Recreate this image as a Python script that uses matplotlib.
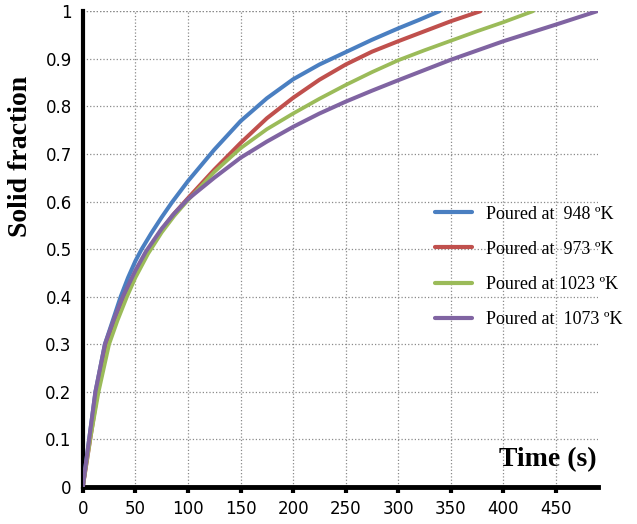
import matplotlib
matplotlib.use("Agg")
from matplotlib import pyplot as plt

# values (time in s, solid fraction)
t_948 = [0, 6, 12, 21, 30, 36, 43, 50, 56, 65, 75, 85, 100, 125, 150, 175, 200,
         225, 250, 275, 300, 320, 339]
fs_948 = [0, 0.10, 0.20, 0.30, 0.36, 0.40, 0.44, 0.475, 0.50, 0.533, 0.567, 0.599, 0.643,
          0.709, 0.769, 0.817, 0.857, 0.888, 0.914, 0.94, 0.964, 0.982, 1.0]

t_973 = [0, 7, 14, 24, 32, 40, 50, 61, 75, 85, 100, 125, 150, 175, 200, 225,
         250, 275, 300, 325, 350, 378]
fs_973 = [0, 0.10, 0.20, 0.30, 0.355, 0.40, 0.447, 0.492, 0.54, 0.57, 0.607, 0.667,
          0.723, 0.775, 0.818, 0.856, 0.888, 0.915, 0.937, 0.958, 0.979, 1.0]

t_1023 = [0, 7, 15, 25, 33, 42, 50, 62, 75, 87, 100, 125, 150, 175, 200, 225, 250,
          275, 300, 325, 350, 375, 400, 428]
fs_1023 = [0, 0.10, 0.20, 0.30, 0.35, 0.40, 0.44, 0.49, 0.535, 0.57, 0.603, 0.662, 0.712,
           0.752, 0.785, 0.816, 0.845, 0.872, 0.897, 0.918, 0.938, 0.958, 0.977, 1.0]

t_1073 = [0, 6, 12, 21, 30, 38, 50, 60, 75, 87, 100, 125, 150, 175, 200, 225, 250,
          275, 300, 350, 400, 450, 489]
fs_1073 = [0, 0.10, 0.20, 0.30, 0.355, 0.40, 0.455, 0.495, 0.543, 0.575, 0.605, 0.65,
           0.692, 0.726, 0.757, 0.785, 0.81, 0.833, 0.855, 0.898, 0.937, 0.972, 1.0]

labels = ["Poured at  948 \u00baK", "Poured at  973 \u00baK",
          "Poured at 1023 \u00baK", "Poured at  1073 \u00baK"]
colors = ["#4a7fc1", "#c0504d", "#9bbb59", "#8064a2"]

x_ticks = [0, 50, 100, 150, 200, 250, 300, 350, 400, 450]
y_ticks = [0, 0.1, 0.2, 0.3, 0.4, 0.5, 0.6, 0.7, 0.8, 0.9, 1]
y_tick_labels = ["0", "0.1", "0.2", "0.3", "0.4", "0.5", "0.6", "0.7", "0.8", "0.9", "1"]

fig = plt.figure(figsize=(6.37, 5.24), dpi=100)
ax = fig.add_axes([0.130, 0.0706, 0.809, 0.908])

series = [(t_948, fs_948), (t_973, fs_973), (t_1023, fs_1023), (t_1073, fs_1073)]
widths = [2.9, 2.9, 2.7, 2.9]
for (t, fs), c, lab, w in zip(series, colors, labels, widths):
    ax.plot(t, fs, color=c, lw=w, label=lab, solid_capstyle="round",
            solid_joinstyle="round", zorder=3)

ax.set_xlim(0, 490)
ax.set_ylim(0, 1)
ax.set_xticks(x_ticks)
ax.set_yticks(y_ticks)
ax.set_yticklabels(y_tick_labels)
ax.grid(True, color="#8a8a8a", linestyle=":", linewidth=0.9)
ax.axhline(1, color="#8a8a8a", linestyle=":", linewidth=0.9, zorder=1)

for s in ["top", "right"]:
    ax.spines[s].set_visible(False)
ax.spines["left"].set_linewidth(3)
ax.spines["bottom"].set_linewidth(3.5)
ax.tick_params(axis="x", length=4, width=3, direction="out", pad=5,
               labelsize=12, colors="black")
ax.tick_params(axis="y", length=0, pad=8, labelsize=12)

ax.set_ylabel("Solid fraction", family="Liberation Serif", fontweight="bold",
              fontsize=20)
ax.yaxis.set_label_coords(-0.097, 0.695)
ax.text(0.997, 0.032, "Time (s)", transform=ax.transAxes, ha="right", va="bottom",
        family="Liberation Serif", fontweight="bold", fontsize=20)

leg = ax.legend(loc="upper left", bbox_to_anchor=(0.683, 0.5916), frameon=False,
                prop={"family": "Liberation Serif", "size": 13},
                handlelength=2.05, handletextpad=0.8, labelspacing=1.01,
                borderpad=0, borderaxespad=0)
for h in leg.get_lines():
    h.set_linewidth(3)

plt.savefig("out.png", dpi=100)
